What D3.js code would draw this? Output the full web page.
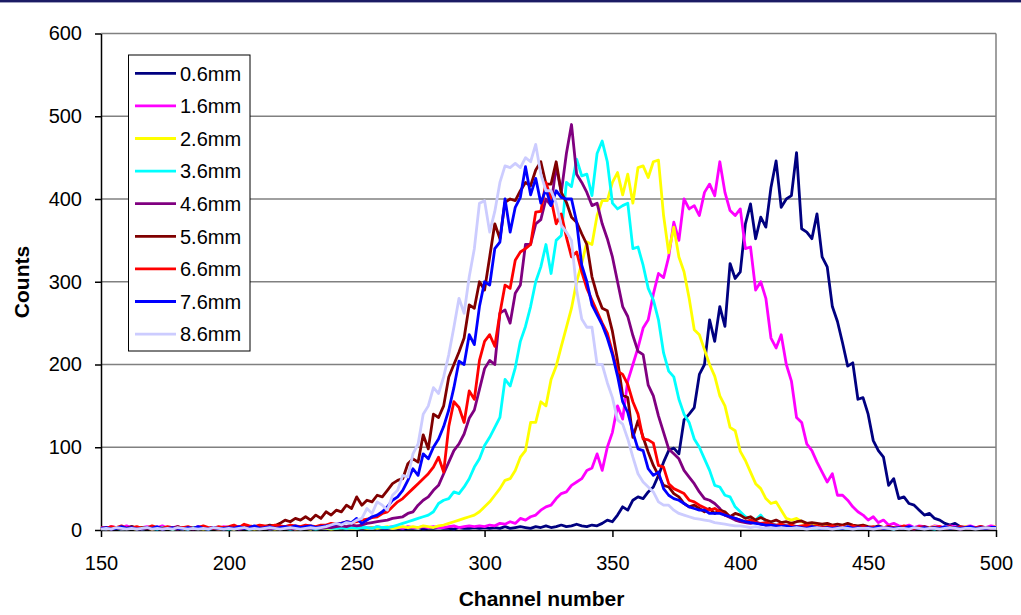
<!DOCTYPE html>
<html lang="en">
<head>
  <meta charset="UTF-8">
  <style>
    body { margin: 0; overflow: hidden; background: #fff; }
    svg { display: block; }
    .tick text { font-family: Arial, "Liberation Sans", sans-serif; font-size: 20px; fill: #000; }
    .title { font-family: Arial, "Liberation Sans", sans-serif; font-size: 21px; font-weight: bold; }
    .legend text { font-family: Arial, "Liberation Sans", sans-serif; font-size: 20px; }
  </style>
  <script src="https://d3js.org/d3.v7.min.js"></script>
</head>
<body>
<svg id="chart"></svg>
<script>
  // channel numbers, one reading every 2 channels
  const channels = d3.range(150, 501, 2);
  const xTicks = [150, 200, 250, 300, 350, 400, 450, 500];
  const yTicks = [0, 100, 200, 300, 400, 500, 600];
  const names = ["0.6mm", "1.6mm", "2.6mm", "3.6mm", "4.6mm", "5.6mm", "6.6mm", "7.6mm", "8.6mm"];
  const colors = ["#000080", "#ff00ff", "#ffff00", "#00ffff", "#800080", "#800000", "#ff0000", "#0000ff", "#ccccff"];

  const s06 = [
    2,1,3,2,1, 2,4,2,1,3, 2,1,2,3,1, 2,2,1,3,2, 1,2,3,2,1,
    2,3,1,2,2, 1,3,2,2,1, 2,3,1,2,2, 3,1,2,2,1, 3,2,2,1,2,
    2,1,2,3,1, 2,2,3,2,1, 2,2,3,1,2, 2,3,2,2,1, 3,2,2,3,2,
    3,2,3,2,4, 2,3,4,3,2, 4,3,5,3,4, 6,4,5,7,5, 4,6,5,8,12,
    10,18,28,24,36, 40,38,46,52,66, 82,96,99,92,133, 140,148,188,200,254, 228,270,246,322,304,
    312,370,394,352,378, 366,414,446,390,400, 404,456,364,360,352, 382,330,318,270,252, 226,198,202,158,160,
    140,108,96,88,54, 62,38,40,32,30, 24,18,20,14,12, 8,6,8,4,3, 4,2,3,2,3,
    2];
  const s16 = [
    3,2,4,3,2, 5,3,2,3,4, 2,3,5,2,3, 4,2,3,2,4, 3,2,3,2,4,
    3,2,4,3,2, 3,4,2,3,3, 2,4,3,2,3, 4,3,2,3,4, 2,3,4,3,3,
    3,4,3,2,4, 3,3,4,3,2, 4,3,3,4,3, 4,3,3,4,5, 3,4,5,4,5,
    4,6,5,8,7, 10,8,14,12,16, 18,24,28,30,38, 44,46,54,58,62, 72,75,92,72,100,
    118,150,134,180,200, 220,244,254,285,310, 305,330,372,350,400, 388,392,380,408,418, 404,445,408,386,380,
    388,340,342,290,300, 280,232,220,236,200, 180,136,130,104,96, 82,70,58,68,42, 42,36,28,22,18,
    12,16,9,12,6, 8,5,4,6,3, 5,4,3,5,4, 3,5,4,3,4, 5,3,4,3,5,
    4];
  const s26 = [
    2,1,2,3,1, 2,2,1,3,2, 1,2,2,3,1, 2,1,2,3,2, 1,2,2,1,2,
    2,1,3,2,2, 1,2,3,2,1, 2,2,3,1,2, 2,1,3,2,2, 1,2,3,2,2,
    2,3,2,3,2, 3,4,2,3,4, 3,4,3,5,4, 3,5,6,8,10, 12,14,16,18,22,
    28,34,42,50,60, 62,72,88,96,130, 130,155,150,182,198, 222,245,268,300,322, 348,345,380,398,398,
    420,432,405,430,395, 438,440,426,445,447, 380,335,366,330,312, 280,242,236,218,200, 186,162,150,124,120,
    95,84,70,56,50, 38,32,34,24,14, 12,14,10,8,6, 7,5,4,5,3, 4,3,4,3,2,
    3,2,4,3,2, 3,2,4,3,2, 3,2,3,4,2, 3,2,3,2,4, 3,2,3,2,3,
    4];
  const s36 = [
    2,1,3,2,1, 2,2,3,1,2, 2,1,3,2,1, 2,2,1,3,2, 2,1,2,3,2,
    1,2,3,2,1, 2,2,3,1,2, 3,2,1,2,2, 3,2,1,2,3, 2,2,3,2,3,
    2,3,3,2,4, 3,3,4,6,8, 10,12,14,16,18, 22,32,36,38,46, 44,52,62,76,86,
    102,112,124,136,182, 174,196,228,246,270, 300,318,345,310,350, 356,420,415,448,428, 430,404,455,470,445,
    395,388,392,395,340, 342,320,292,278,254, 214,192,185,158,140, 130,110,100,86,72, 54,52,42,40,28,
    22,16,14,12,18, 10,8,6,5,4, 5,3,4,3,2, 3,2,3,4,2, 3,2,3,2,3,
    2,3,2,3,2, 1,3,2,3,2, 2,3,2,1,3, 2,2,3,2,2, 3,2,3,2,2,
    3];
  const s46 = [
    2,1,2,3,1, 2,3,2,1,2, 2,3,1,2,2, 1,3,2,1,2, 3,2,2,1,2,
    2,3,1,2,3, 2,2,3,1,2, 3,2,2,1,3, 2,2,3,2,3, 3,4,5,4,6,
    5,6,8,9,10, 11,12,14,15,16, 20,22,30,36,40, 48,54,68,82,96, 104,116,135,145,170,
    195,205,200,262,266, 250,286,296,345,345, 370,375,400,392,440, 408,455,490,430,420, 408,392,395,370,352,
    330,300,270,258,235, 216,212,175,162,138, 118,98,92,86,72, 64,56,46,38,36, 32,26,18,15,12,
    10,9,8,10,7, 6,6,5,6,4, 5,4,3,4,5, 3,4,3,2,3, 4,3,2,3,2,
    3,2,3,2,3, 2,2,3,2,1, 3,2,2,3,2, 2,3,2,1,2, 3,2,2,3,2,
    2];
  const s56 = [
    2,3,1,2,3, 2,4,2,3,2, 1,3,2,3,2, 4,2,3,2,3, 4,2,3,2,3,
    3,4,3,5,4, 3,5,4,6,5, 8,12,10,14,12, 16,12,18,14,22, 18,24,22,30,26,
    40,30,36,34,42, 40,48,56,60,62, 80,86,82,115,98, 140,136,150,185,200, 215,232,272,268,300,
    290,330,370,352,396, 400,398,410,420,416, 435,445,418,418,445, 408,396,378,372,358, 345,306,284,268,265,
    240,205,163,160,112, 132,112,94,78,66, 54,52,44,40,32, 28,30,26,22,26, 20,24,22,16,20,
    18,14,16,12,15, 12,10,12,9,10, 8,10,11,8,9, 8,7,8,6,7, 6,8,6,5,6,
    4,3,5,3,4, 3,2,4,3,2, 3,4,2,3,2, 3,4,2,3,2, 3,2,4,3,2,
    3];
  const s66 = [
    3,2,4,3,5, 2,3,4,2,3, 5,3,2,4,3, 2,3,4,2,3, 5,3,2,4,3,
    4,6,3,7,5, 4,6,5,4,6, 5,4,6,5,4, 6,5,4,6,6, 8,7,8,10,9,
    10,12,13,15,16, 20,22,28,34,38, 44,50,56,62,68, 76,88,70,125,155, 148,130,168,158,205,
    228,236,222,262,296, 292,326,336,340,345, 384,385,420,400,370, 382,354,330,336,312, 292,278,264,250,238,
    215,192,188,176,155, 140,110,109,105,78, 76,56,50,47,44, 36,34,30,27,24, 26,22,18,16,14,
    12,10,12,9,8, 9,7,6,7,5, 6,4,5,6,4, 5,3,4,5,3, 4,3,5,3,4,
    3,4,2,3,4, 2,3,5,3,2, 4,3,2,3,4, 2,3,2,4,3, 2,3,4,2,3,
    3];
  const s76 = [
    2,3,1,2,4, 2,3,1,2,3, 2,4,1,2,3, 2,1,3,2,4, 2,1,3,2,2,
    3,2,4,2,3, 5,2,3,4,2, 3,4,3,5,3, 4,5,3,4,5, 6,7,8,10,9,
    14,8,12,16,18, 22,28,36,40,48, 60,74,66,92,86, 100,110,125,145,172, 204,200,236,224,270,
    300,296,340,348,400, 360,390,402,439,405, 425,395,412,392,410, 402,400,400,372,320, 300,272,260,248,232,
    212,186,155,142,118, 98,96,74,66,70, 50,42,38,36,32, 28,26,24,24,20, 20,20,18,16,14,
    12,10,9,8,7, 6,6,5,4,5, 3,4,3,2,4, 3,2,3,2,3, 2,4,2,3,2,
    3,2,4,2,3, 2,3,2,4,3, 2,3,2,3,2, 4,2,3,2,3, 4,2,3,2,3,
    3];
  const s86 = [
    1,2,1,3,2, 1,2,1,2,3, 1,2,1,2,1, 3,2,1,2,1, 2,1,3,2,1,
    2,1,2,3,1, 2,1,2,3,2, 1,2,3,2,1, 2,3,2,3,4, 6,8,6,9,8,
    12,14,26,20,34, 30,24,42,48,66, 64,92,104,140,150, 172,165,185,212,245, 280,262,306,340,395,
    398,360,385,420,440, 438,443,438,450,445, 466,430,410,410,395, 368,360,350,290,255, 245,245,200,200,178,
    160,133,128,110,88, 68,58,52,46,34, 30,30,24,20,18, 16,14,13,12,11, 9,8,7,6,5,
    5,4,3,4,3, 2,3,2,3,2, 2,3,2,1,2, 3,2,2,1,2, 3,2,1,2,2,
    2,1,2,3,2, 1,2,2,1,3, 2,1,2,2,1, 2,3,2,1,2, 2,1,2,3,2,
    2];

  const series = [s06, s16, s26, s36, s46, s56, s66, s76, s86];

  const width = 1021, height = 615;
  const plot = { left: 101, right: 996, top: 33.5, bottom: 530 };

  const svg = d3.select("#chart").attr("width", width).attr("height", height);

  // thin band across the top of the slide
  svg.append("rect").attr("x", 0).attr("y", 0).attr("width", width).attr("height", 2).attr("fill", "#1b1b64");
  svg.append("line").attr("x1", 0).attr("x2", width).attr("y1", 2.5).attr("y2", 2.5)
    .attr("stroke", "#a0a0c0").attr("stroke-width", 1);

  const x = d3.scaleLinear().domain([150, 500]).range([plot.left, plot.right]);
  const y = d3.scaleLinear().domain([0, 600]).range([plot.bottom, plot.top]);

  // gridlines
  svg.append("g").selectAll("line")
    .data(yTicks.filter(d => d > 0))
    .join("line")
    .attr("x1", plot.left).attr("x2", plot.right)
    .attr("y1", d => y(d)).attr("y2", d => y(d))
    .attr("stroke", "#808080").attr("stroke-width", 1.5);

  // right border of plot area
  svg.append("line")
    .attr("x1", plot.right).attr("x2", plot.right)
    .attr("y1", plot.top).attr("y2", plot.bottom)
    .attr("stroke", "#808080").attr("stroke-width", 1.5);

  const yAxis = svg.append("g")
    .attr("transform", `translate(${plot.left},0)`)
    .call(d3.axisLeft(y).tickValues(yTicks).tickSize(6).tickPadding(13).tickSizeOuter(0));

  const xAxis = svg.append("g")
    .attr("transform", `translate(0,${plot.bottom})`)
    .call(d3.axisBottom(x).tickValues(xTicks).tickSize(7).tickPadding(19).tickSizeOuter(0));

  [yAxis, xAxis].forEach(g => {
    g.select(".domain").attr("stroke", "#000").attr("stroke-width", 1.5);
    g.selectAll(".tick line").attr("stroke", "#000").attr("stroke-width", 1.5);
  });

  // series lines
  const line = d3.line()
    .x((d, i) => x(channels[i]))
    .y(d => y(d));

  svg.append("g").selectAll("path")
    .data(series)
    .join("path")
    .attr("d", d => line(d.slice(0, channels.length)))
    .attr("fill", "none")
    .attr("stroke", (d, i) => colors[i])
    .attr("stroke-width", 2.8)
    .attr("stroke-linejoin", "round");

  // axis titles
  svg.append("text")
    .attr("class", "title")
    .attr("transform", "translate(29,282) rotate(-90)")
    .attr("text-anchor", "middle")
    .text("Counts");

  svg.append("text")
    .attr("class", "title")
    .attr("x", (plot.left + plot.right) / 2 - 7)
    .attr("y", 606)
    .attr("text-anchor", "middle")
    .text("Channel number");

  // legend
  const legend = svg.append("g").attr("class", "legend");
  legend.append("rect")
    .attr("x", 128.5).attr("y", 55)
    .attr("width", 121.5).attr("height", 296)
    .attr("fill", "#fff").attr("stroke", "#000").attr("stroke-width", 1);

  const item = legend.selectAll("g.item")
    .data(names)
    .join("g")
    .attr("class", "item")
    .attr("transform", (d, i) => `translate(0,${73.3 + i * 32.6})`);

  item.append("line")
    .attr("x1", 135).attr("x2", 176)
    .attr("stroke", (d, i) => colors[i])
    .attr("stroke-width", 2.8);

  item.append("text")
    .attr("x", 180)
    .attr("dy", "0.36em")
    .text(d => d);
</script>
</body>
</html>
